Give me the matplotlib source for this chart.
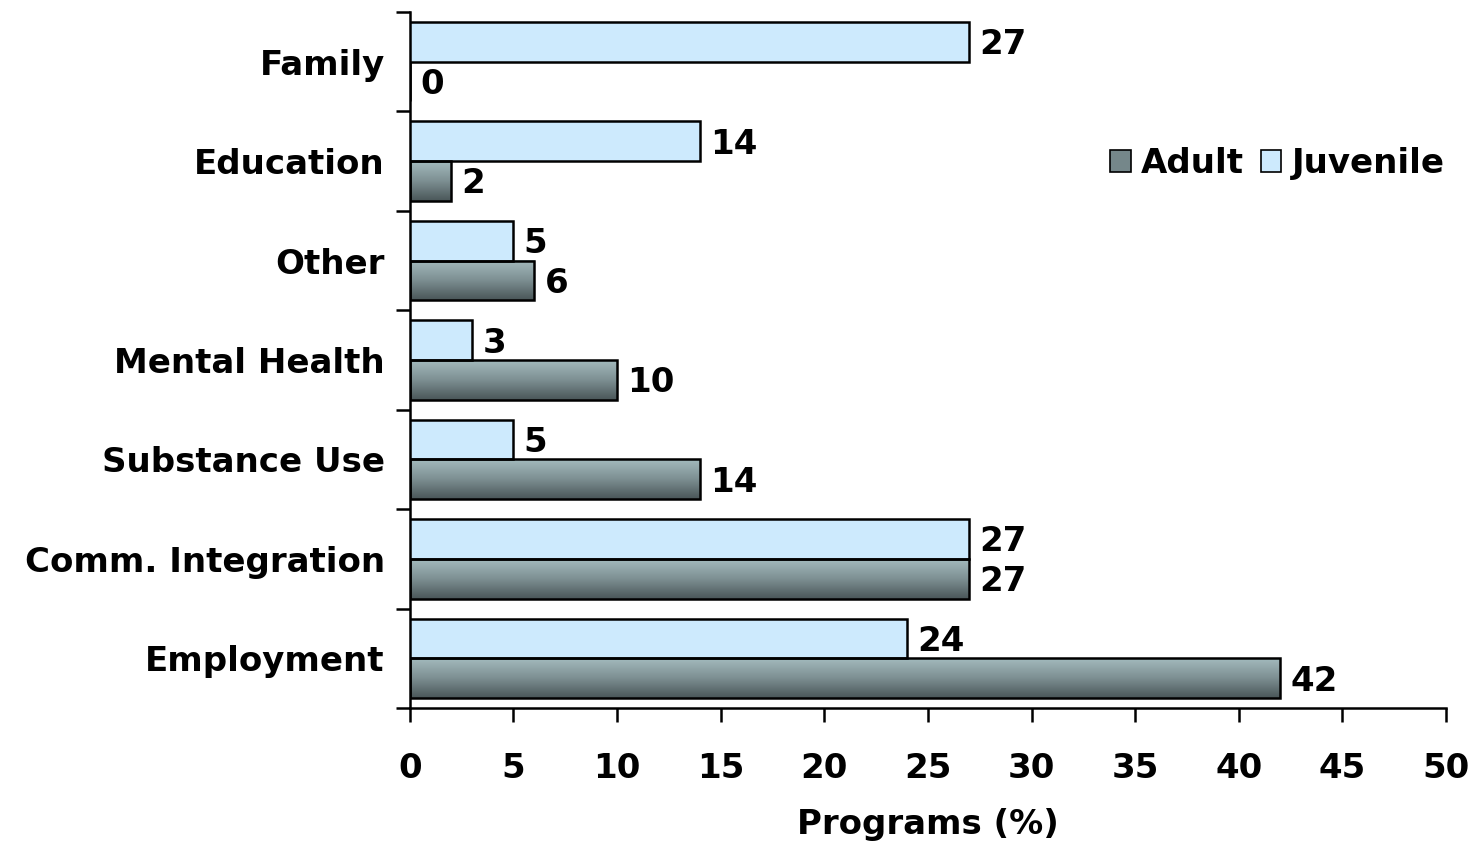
import numpy as np
import matplotlib
matplotlib.use('Agg')
import matplotlib.pyplot as plt
from matplotlib.colors import LinearSegmentedColormap
from matplotlib.patches import Patch

categories = ["Employment", "Comm. Integration", "Substance Use", "Mental Health",
              "Other", "Education", "Family"]
adult = [42, 27, 14, 10, 6, 2, 0]
juvenile = [24, 27, 5, 3, 5, 14, 27]
xticks = [0, 5, 10, 15, 20, 25, 30, 35, 40, 45, 50]

plt.rcParams['font.family'] = ['DejaVu Sans']
plt.rcParams['font.weight'] = 'bold'
FS = 24.5

fig = plt.figure(figsize=(14.74, 8.5), dpi=100)
ax = fig.add_axes([0.278, 0.167, 0.703, 0.819])

juv_color = '#cdeafd'
grad = LinearSegmentedColormap.from_list('adult', ['#4a5759', '#7d8f92', '#a3babd'])
h = 0.4
y = np.arange(len(categories))

ax.barh(y + h / 2, juvenile, height=h, color=juv_color, edgecolor='black', linewidth=1.8, zorder=3)

# adult bars: vertical gradient, then outline on top
g = np.linspace(0, 1, 64).reshape(-1, 1)
for yi, v in zip(y, adult):
    if v > 0:
        ax.imshow(g, extent=[0, v, yi - h, yi], aspect='auto', cmap=grad,
                  origin='lower', zorder=2, interpolation='bicubic')
ax.barh(y - h / 2, adult, height=h, color='none', edgecolor='black', linewidth=1.8, zorder=3)

for yi, v in zip(y, juvenile):
    ax.text(v + 0.5, yi + h / 2 - 0.03, str(v), va='center', ha='left', fontsize=FS, fontweight='bold')
for yi, v in zip(y, adult):
    ax.text(v + 0.5, yi - h / 2 - 0.03, str(v), va='center', ha='left', fontsize=FS, fontweight='bold')

ax.set_xlim(0, 50)
ax.set_ylim(-0.5, len(categories) - 0.5)
ax.set_xticks(xticks)
ax.set_xticklabels([str(t) for t in xticks], fontsize=FS, fontweight='bold')
ax.tick_params(axis='x', length=10, width=1.8, pad=22)

ax.set_yticks(y)
ax.set_yticklabels(categories, fontsize=FS, fontweight='bold')
ax.set_yticks(np.arange(len(categories) + 1) - 0.5, minor=True)
ax.tick_params(axis='y', which='major', length=0, pad=18)
ax.tick_params(axis='y', which='minor', length=10, width=1.8)

for s in ['top', 'right']:
    ax.spines[s].set_visible(False)
for s in ['left', 'bottom']:
    ax.spines[s].set_linewidth(1.8)

ax.set_xlabel("Programs (%)", fontsize=FS, fontweight='bold', labelpad=16)

handles = [Patch(facecolor='#75878a', edgecolor='black', linewidth=1.2, label='Adult'),
           Patch(facecolor=juv_color, edgecolor='black', linewidth=1.2, label='Juvenile')]
ax.legend(handles=handles, loc='upper right', bbox_to_anchor=(1.028, 0.85), ncol=2,
          frameon=False, prop={'size': FS, 'weight': 'bold'},
          handlelength=0.6, handleheight=0.6, handletextpad=0.3, columnspacing=0.5)

fig.savefig('out.png', dpi=100)
